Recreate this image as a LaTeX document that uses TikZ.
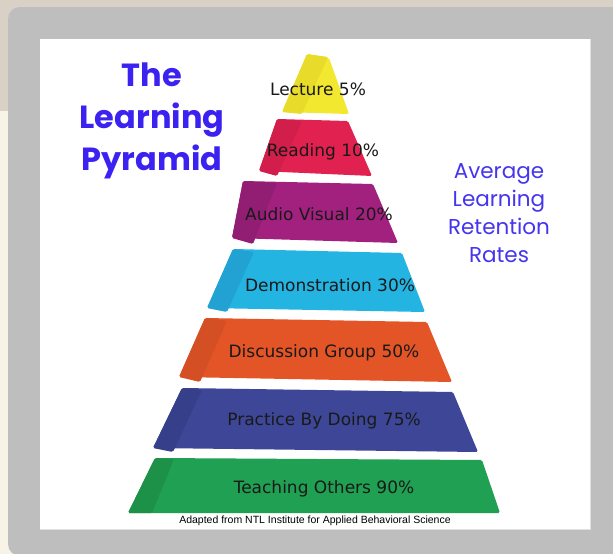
\documentclass[tikz,border=0pt]{standalone}
\usepackage{fontspec}
\setmainfont{DejaVu Sans}
\newfontfamily\titlefont{Poppins}
\newfontfamily\notefont{Liberation Sans}
\usetikzlibrary{positioning}

\definecolor{bgtop}{HTML}{D9D0C6}
\definecolor{bgleft}{HTML}{F7F4E7}
\definecolor{frame}{HTML}{BEBEBE}
\definecolor{titleblue}{HTML}{3B22F0}
\definecolor{rateblue}{HTML}{4535EE}
\definecolor{lecF}{HTML}{F2E830}\definecolor{lecS}{HTML}{E8DB2A}
\definecolor{reaF}{HTML}{E1214F}\definecolor{reaS}{HTML}{D21E4B}
\definecolor{audF}{HTML}{A2217F}\definecolor{audS}{HTML}{921E73}
\definecolor{demF}{HTML}{23B4E2}\definecolor{demS}{HTML}{21A2D3}
\definecolor{disF}{HTML}{E35526}\definecolor{disS}{HTML}{D45024}
\definecolor{praF}{HTML}{3E4797}\definecolor{praS}{HTML}{363F8A}
\definecolor{teaF}{HTML}{20A052}\definecolor{teaS}{HTML}{1D9148}

\begin{document}
\begin{tikzpicture}[x=1pt, y=-1pt,
    layer/.style={rounded corners=1.5pt},
    lab/.style={font=\fontsize{17}{19}\selectfont, text=black!90}]

\useasboundingbox (0,0) rectangle (613,554);

% Background and frame
\fill[bgleft] (0,0) rectangle (613,554);
\fill[bgtop] (0,0) rectangle (613,111);
\fill[frame, rounded corners=12pt] (8,7) rectangle (650,556);
\fill[black!12] (40,39) rectangle (591,530);
\fill[white] (40,39) rectangle (590,529);

% Lecture
\fill[lecF, layer] (307,54) -- (329,58) -- (349,114) -- (282,112) -- cycle;
\fill[lecS, layer] (307,54) -- (328,57) -- (302,114) -- (282,112) -- cycle;
\node[lab] (lecture) at (318,89) {Lecture 5\%};

% Reading
\fill[reaF, layer] (277,119) -- (348,121) -- (372,176) -- (259,171) -- cycle;
\fill[reaS, layer] (277,119) -- (302,121) -- (277,176) -- (259,171) -- cycle;
\node[lab] (reading) at (323,152) {Reading 10\%};

% Audio visual
\fill[audF, layer] (243,181) -- (373,184) -- (398,243) -- (232,238) -- cycle;
\fill[audS, layer] (243,181) -- (277,183) -- (253,244) -- (232,238) -- cycle;
\node[lab] (audio) at (319,214) {Audio Visual 20\%};

% Demonstration
\fill[demF, layer] (233,249) -- (402,253) -- (425,312) -- (207,308) -- cycle;
\fill[demS, layer] (233,249) -- (254,252) -- (227,312) -- (207,308) -- cycle;
\node[lab] (demo) at (330,285) {Demonstration 30\%};

% Discussion group
\fill[disF, layer] (205,318) -- (427,322) -- (452,382) -- (179,377) -- cycle;
\fill[disS, layer] (205,318) -- (227,321) -- (200,382) -- (179,377) -- cycle;
\node[lab] (discuss) at (324,353) {Discussion Group 50\%};

% Practice by doing
\fill[praF, layer] (182,388) -- (453,392) -- (478,452) -- (153,448) -- cycle;
\fill[praS, layer] (182,388) -- (202,390) -- (173,452) -- (153,448) -- cycle;
\node[lab] (practice) at (324,421) {Practice By Doing 75\%};

% Teaching others
\fill[teaF, layer] (155,458) -- (482,460) -- (500,513) -- (128,513) -- cycle;
\fill[teaS, layer] (155,458) -- (174,459) -- (152,513) -- (128,513) -- cycle;
\node[lab] (teaching) at (324,489) {Teaching Others 90\%};

% Titles
\node[text=titleblue, align=center, font=\titlefont\bfseries\fontsize{32}{42}\selectfont]
    (title) at (152,121) {The\\Learning\\Pyramid};
\node[text=rateblue, align=center, font=\titlefont\fontsize{21.5}{28}\selectfont]
    (rates) at (499,213) {Average\\Learning\\Retention\\Rates};

% Source
\node[font=\notefont\fontsize{10.5}{12}\selectfont] (source) at (315,521)
    {Adapted from NTL Institute for Applied Behavioral Science};
\end{tikzpicture}
\end{document}
